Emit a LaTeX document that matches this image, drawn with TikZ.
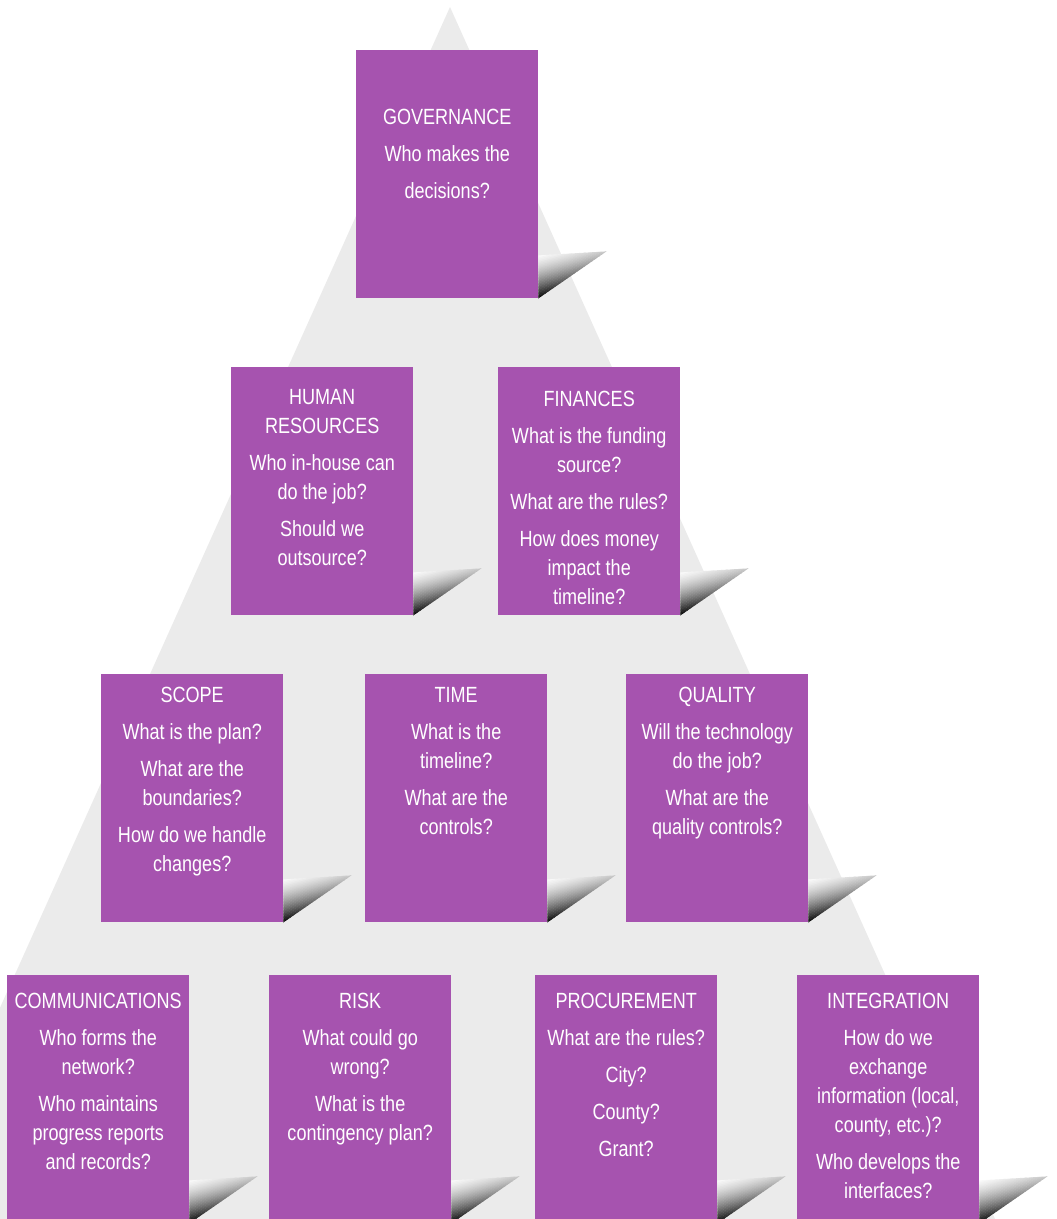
\documentclass[tikz,border=0pt]{standalone}
\usepackage{fontspec}
\setmainfont{Liberation Sans}[FakeStretch=0.82]
\usetikzlibrary{calc}
\definecolor{pyrgray}{HTML}{EBEBEB}
\definecolor{boxpurple}{HTML}{A653AF}
\tikzset{
  pbox/.style={fill=boxpurple, draw=none, minimum width=182pt, minimum height=248pt, inner sep=0pt, anchor=north west},
  ptext/.style={text=white, align=center, anchor=north, inner sep=0pt, font=\fontsize{22}{29}\selectfont}
}
\newcommand\curlat[1]{%
  \begin{scope}
    \clip ($(#1.south east)+(0,-43)$) -- ($(#1.south east)+(68,-47)$) -- (#1.south east) -- cycle;
    \foreach \i in {0,...,30}{%
      \pgfmathsetmacro\cc{100*(0.4*\i/30+0.6*(\i/30)*(\i/30))}%
      \fill[black!\cc] ($(#1.south east)+(-5,-44+1.5*\i)$) -- ++(85,-22.8) -- ++(0,1.8) -- ++(-85,22.8) -- cycle;
    }
  \end{scope}}
\begin{document}
\begin{tikzpicture}[x=1pt,y=-1pt]
\useasboundingbox (0,0) rectangle (1057,1219);
\clip (0,0) rectangle (1057,1219);
\fill[pyrgray] (450,7) -- (1000,1230) -- (-100,1230) -- cycle;

% boxes
\node[pbox] (gov) at (356,50) {};
\node[pbox] (hr) at (231,367) {};
\node[pbox] (fin) at (498,367) {};
\node[pbox] (scope) at (101,674) {};
\node[pbox] (time) at (365,674) {};
\node[pbox] (qual) at (626,674) {};
\node[pbox] (comm) at (7,975) {};
\node[pbox] (risk) at (269,975) {};
\node[pbox] (proc) at (535,975) {};
\node[pbox] (integ) at (797,975) {};

\curlat{gov}\curlat{hr}\curlat{fin}
\curlat{scope}\curlat{time}\curlat{qual}
\curlat{comm}\curlat{risk}\curlat{proc}\curlat{integ}

% texts
\node[ptext] (govt) at ($(gov.north)+(0,59)$) {GOVERNANCE\\[8pt]Who makes the\\[8pt]decisions?};
\node[ptext] (hrt) at ($(hr.north)+(0,22)$) {HUMAN\\RESOURCES\\[8pt]Who in-house can\\do the job?\\[8pt]Should we\\outsource?};
\node[ptext] (fint) at ($(fin.north)+(0,24)$) {FINANCES\\[8pt]What is the funding\\source?\\[8pt]What are the rules?\\[8pt]How does money\\impact the\\timeline?};
\node[ptext] (scopet) at ($(scope.north)+(0,13)$) {SCOPE\\[8pt]What is the plan?\\[8pt]What are the\\boundaries?\\[8pt]How do we handle\\changes?};
\node[ptext] (timet) at ($(time.north)+(0,13)$) {TIME\\[8pt]What is the\\timeline?\\[8pt]What are the\\controls?};
\node[ptext] (qualt) at ($(qual.north)+(0,13)$) {QUALITY\\[8pt]Will the technology\\do the job?\\[8pt]What are the\\quality controls?};
\node[ptext] (commt) at ($(comm.north)+(0,18)$) {COMMUNICATIONS\\[8pt]Who forms the\\network?\\[8pt]Who maintains\\progress reports\\and records?};
\node[ptext] (riskt) at ($(risk.north)+(0,18)$) {RISK\\[8pt]What could go\\wrong?\\[8pt]What is the\\contingency plan?};
\node[ptext] (proct) at ($(proc.north)+(0,18)$) {PROCUREMENT\\[8pt]What are the rules?\\[8pt]City?\\[8pt]County?\\[8pt]Grant?};
\node[ptext] (integt) at ($(integ.north)+(0,18)$) {INTEGRATION\\[8pt]How do we\\exchange\\information (local,\\county, etc.)?\\[8pt]Who develops the\\interfaces?};
\end{tikzpicture}
\end{document}
